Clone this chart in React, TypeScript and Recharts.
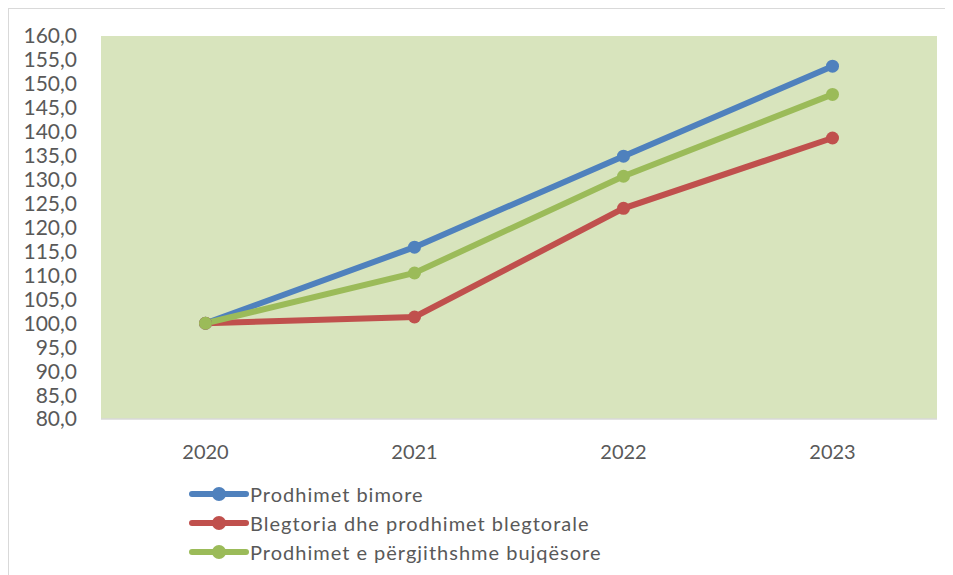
import React from "react";
import { LineChart, Line, XAxis, YAxis, CartesianGrid } from "recharts";

const years = ["2020", "2021", "2022", "2023"];
const bimore = [100.0, 115.9, 134.9, 153.7];
const blegtoria = [100.0, 101.3, 124.0, 138.7];
const pergjithshme = [100.0, 110.5, 130.7, 147.8];
const yTicks = [80, 85, 90, 95, 100, 105, 110, 115, 120, 125, 130, 135, 140, 145, 150, 155, 160];

const seriesInfo = [
  { key: "bimore", name: "Prodhimet bimore", color: "#4f81bd" },
  { key: "blegtoria", name: "Blegtoria dhe prodhimet blegtorale", color: "#c0504d" },
  { key: "pergjithshme", name: "Prodhimet e përgjithshme bujqësore", color: "#9bbb59" },
];

const data = years.map((y, i) => ({
  year: y,
  bimore: bimore[i],
  blegtoria: blegtoria[i],
  pergjithshme: pergjithshme[i],
}));

const FONT = "Lato, 'Open Sans', sans-serif";

const LegendBlock = () => (
  <div
    style={{
      position: "absolute",
      left: 180,
      top: 470,
      fontFamily: FONT,
      fontSize: 20,
      color: "#595959",
      letterSpacing: 1,
    }}
  >
    {seriesInfo.map((s) => (
      <div key={s.key} style={{ display: "flex", alignItems: "center", height: 29 }}>
        <svg width={60} height={16} style={{ marginRight: 1 }}>
          <line x1={3} y1={8} x2={57} y2={8} stroke={s.color} strokeWidth={6} strokeLinecap="round" />
          <circle cx={30} cy={8} r={7} fill={s.color} />
        </svg>
        <span>{s.name}</span>
      </div>
    ))}
  </div>
);

export default function App() {
  return (
    <div
      style={{
        position: "relative",
        width: 938,
        height: 566,
        border: "1px solid #d9d9d9",
        background: "#fff",
      }}
    >
      <LineChart
        width={936}
        height={566}
        data={data}
        margin={{ top: 27, right: 8, bottom: 116, left: 0 }}
      >
        <CartesianGrid fill="#d8e4bd" horizontal={false} vertical={false} stroke="none" />
        <XAxis
          dataKey="year"
          scale="band"
          axisLine={{ stroke: "#d9d9d9", strokeWidth: 1.5 }}
          tickLine={false}
          tick={{ fill: "#595959", fontSize: 20, fontFamily: FONT }}
          tickMargin={20}
          height={40}
        />
        <YAxis
          domain={[80, 160]}
          ticks={yTicks}
          interval={0}
          axisLine={false}
          tickLine={false}
          width={92}
          tickSize={0}
          tickMargin={24}
          tick={{ fill: "#595959", fontSize: 21, fontFamily: FONT }}
          tickFormatter={(v: number) => v.toFixed(1).replace(".", ",")}
        />
        {seriesInfo.map((s) => (
          <Line
            key={s.key}
            type="linear"
            dataKey={s.key}
            name={s.name}
            stroke={s.color}
            strokeWidth={6}
            dot={{ r: 6.5, fill: s.color, stroke: "none" }}
            activeDot={false}
            isAnimationActive={false}
          />
        ))}
      </LineChart>
      <LegendBlock />
    </div>
  );
}
